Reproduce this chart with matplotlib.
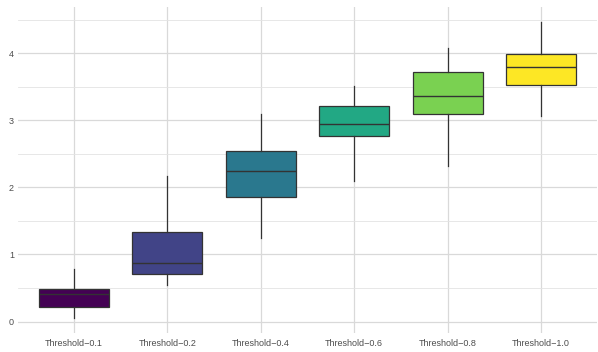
import matplotlib.pyplot as plt
import numpy as np

# box summaries per threshold
labels = ["Threshold−0.1", "Threshold−0.2", "Threshold−0.4",
          "Threshold−0.6", "Threshold−0.8", "Threshold−1.0"]
whislo = [0.05, 0.545, 1.24, 2.09, 2.32, 3.07]
q1 = [0.21, 0.71, 1.86, 2.76, 3.09, 3.53]
med = [0.41, 0.87, 2.25, 2.94, 3.37, 3.80]
q3 = [0.486, 1.34, 2.55, 3.21, 3.72, 3.99]
whishi = [0.79, 2.17, 3.09, 3.51, 4.08, 4.47]
colors = ["#440154", "#414487", "#2A788E", "#22A884", "#7AD151", "#FDE725"]

plt.rcParams["font.family"] = ["Liberation Sans", "DejaVu Sans"]

fig = plt.figure(figsize=(5.98, 3.52), dpi=100)
ax = fig.add_axes([18 / 598, 19 / 352, 579 / 598, 326 / 352])

stats = []
for i in range(len(labels)):
    stats.append(dict(label=labels[i], whislo=whislo[i], q1=q1[i], med=med[i],
                      q3=q3[i], whishi=whishi[i], fliers=[]))

pos = np.arange(1, len(labels) + 1)
bp = ax.bxp(stats, positions=pos, widths=0.75, patch_artist=True, showcaps=False,
            boxprops=dict(edgecolor="#333333", linewidth=0.9),
            medianprops=dict(color="#333333", linewidth=1.0),
            whiskerprops=dict(color="#333333", linewidth=0.9))
for patch, c in zip(bp["boxes"], colors):
    patch.set_facecolor(c)

lo, hi = min(whislo), max(whishi)
pad = (hi - lo) * 0.05
ax.set_ylim(lo - pad, hi + pad)
ax.set_xlim(0.4, len(labels) + 0.6)

ax.set_yticks([0, 1, 2, 3, 4])
ax.set_yticks([0.5, 1.5, 2.5, 3.5, 4.5], minor=True)
ax.set_xticks(pos)
ax.set_xticklabels(labels)
ax.tick_params(axis="both", which="both", length=0, labelsize=6.5, colors="#4d4d4d", pad=3)
ax.tick_params(axis="x", pad=4)

ax.set_axisbelow(True)
ax.grid(True, which="major", color="#d9d9d9", linewidth=0.9)
ax.grid(True, which="minor", axis="y", color="#e3e3e3", linewidth=0.6)
for s in ax.spines.values():
    s.set_visible(False)

fig.savefig("out.png", dpi=100)
